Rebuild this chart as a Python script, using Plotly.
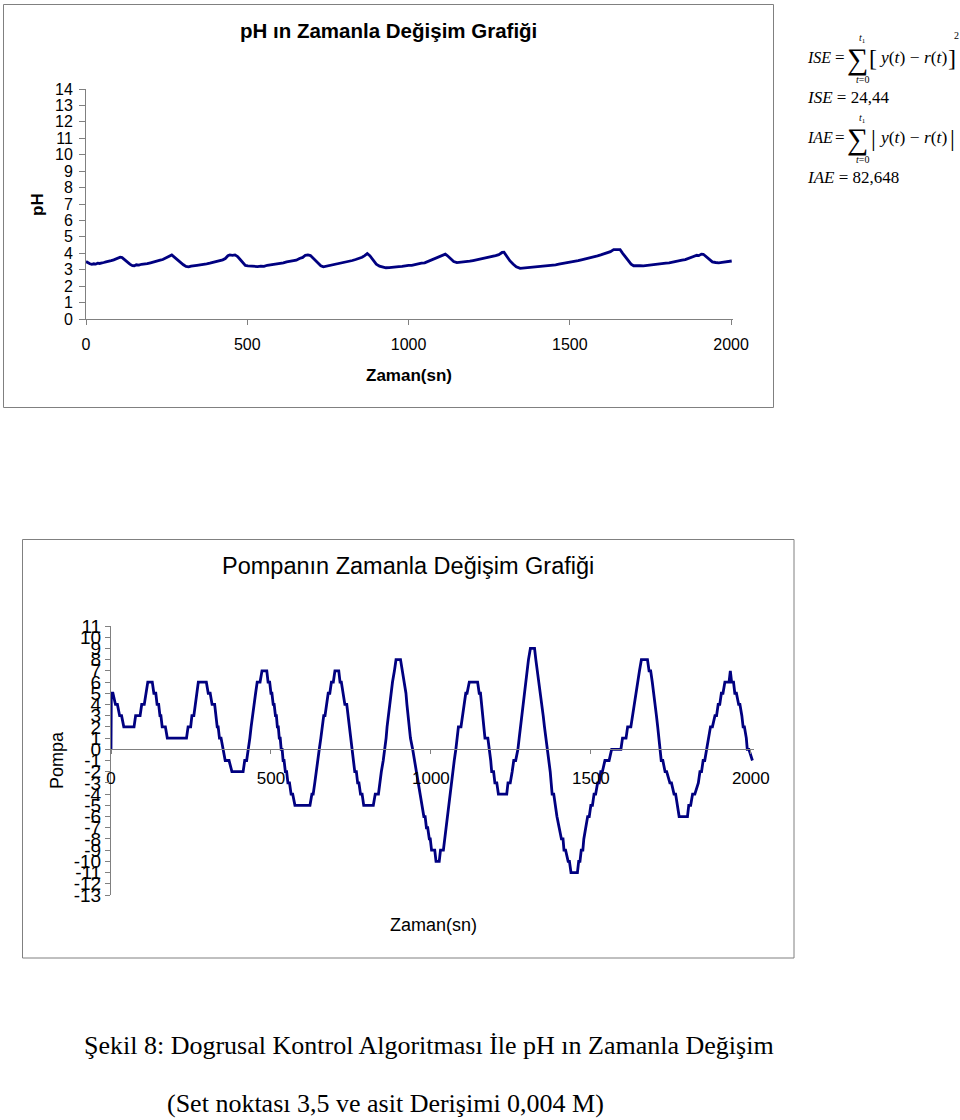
import plotly.graph_objects as go

# ---------------- data ----------------
ph_time = [0, 6, 12, 18, 24, 30, 36, 42, 48, 55, 62, 70, 78, 86, 94, 100, 106, 112, 120, 128,
           136, 144, 150, 156, 164, 172, 180, 190, 200, 210, 220, 230, 238, 246, 254, 260, 266,
           272, 282, 292, 302, 310, 318, 326, 334, 344, 354, 364, 374, 384, 394, 404, 414, 424,
           432, 440, 446, 454, 462, 470, 478, 486, 494, 502, 512, 522, 532, 542, 552, 562, 572,
           582, 592, 602, 612, 622, 632, 642, 652, 662, 672, 680, 688, 696, 704, 712, 720, 728,
           736, 746, 756, 766, 776, 786, 796, 806, 816, 826, 836, 846, 856, 864, 872, 880, 890,
           900, 910, 920, 930, 940, 950, 960, 970, 980, 990, 1000, 1010, 1020, 1030, 1040, 1050,
           1060, 1070, 1080, 1090, 1100, 1108, 1114, 1120, 1130, 1140, 1150, 1160, 1170, 1180,
           1190, 1200, 1210, 1220, 1230, 1240, 1250, 1260, 1270, 1280, 1290, 1296, 1304, 1314,
           1324, 1334, 1346, 1356, 1366, 1376, 1386, 1396, 1406, 1416, 1426, 1436, 1446, 1456,
           1466, 1476, 1486, 1496, 1506, 1516, 1526, 1536, 1546, 1556, 1566, 1576, 1586, 1596,
           1606, 1616, 1626, 1636, 1646, 1656, 1664, 1672, 1680, 1690, 1698, 1708, 1718, 1728,
           1738, 1748, 1758, 1768, 1778, 1788, 1798, 1808, 1818, 1828, 1838, 1848, 1858, 1868,
           1878, 1886, 1894, 1900, 1908, 1914, 1922, 1932, 1942, 1952, 1962, 1972, 1982, 1992, 2002]
ph_value = [3.50, 3.42, 3.36, 3.33, 3.36, 3.34, 3.40, 3.38, 3.43, 3.44, 3.48, 3.50, 3.55, 3.60, 3.65,
            3.72, 3.76, 3.74, 3.60, 3.48, 3.34, 3.25, 3.24, 3.30, 3.28, 3.33, 3.34, 3.37, 3.42, 3.46,
            3.52, 3.58, 3.62, 3.70, 3.76, 3.82, 3.90, 3.80, 3.62, 3.44, 3.30, 3.20, 3.17, 3.22, 3.26,
            3.27, 3.30, 3.31, 3.36, 3.40, 3.45, 3.48, 3.55, 3.60, 3.68, 3.85, 3.90, 3.87, 3.90, 3.80,
            3.62, 3.42, 3.26, 3.24, 3.22, 3.23, 3.19, 3.22, 3.20, 3.27, 3.30, 3.30, 3.36, 3.40, 3.42,
            3.48, 3.50, 3.56, 3.58, 3.68, 3.75, 3.88, 3.90, 3.86, 3.72, 3.56, 3.40, 3.24, 3.18, 3.22,
            3.28, 3.30, 3.33, 3.38, 3.42, 3.46, 3.52, 3.56, 3.62, 3.68, 3.76, 3.86, 3.98, 3.85, 3.58,
            3.34, 3.22, 3.15, 3.12, 3.13, 3.16, 3.15, 3.19, 3.20, 3.24, 3.26, 3.26, 3.32, 3.34, 3.40,
            3.42, 3.50, 3.58, 3.65, 3.72, 3.80, 3.88, 3.95, 3.86, 3.66, 3.50, 3.43, 3.45, 3.44, 3.50,
            3.52, 3.56, 3.60, 3.62, 3.68, 3.72, 3.76, 3.80, 3.86, 3.92, 4.05, 4.06, 3.80, 3.55, 3.35,
            3.18, 3.08, 3.10, 3.12, 3.11, 3.14, 3.16, 3.17, 3.20, 3.22, 3.25, 3.28, 3.30, 3.34, 3.37,
            3.40, 3.45, 3.48, 3.52, 3.55, 3.60, 3.64, 3.70, 3.75, 3.80, 3.84, 3.90, 3.96, 4.02, 4.10,
            4.22, 4.24, 4.22, 4.00, 3.78, 3.56, 3.34, 3.24, 3.22, 3.24, 3.23, 3.26, 3.27, 3.30, 3.32,
            3.34, 3.38, 3.40, 3.42, 3.47, 3.50, 3.54, 3.58, 3.62, 3.70, 3.76, 3.80, 3.88, 3.86, 3.95,
            3.94, 3.80, 3.62, 3.48, 3.44, 3.42, 3.45, 3.48, 3.50, 3.53]

pump_points = [
    (0, 0), (1, 5), (6, 5), (14, 4), (20, 4), (27, 3), (33, 3), (40, 2), (72, 2), (77, 3), (91, 3),
    (96, 4), (104, 4), (109, 5), (115, 6), (129, 6), (134, 5), (140, 5), (144, 4), (149, 4), (153, 3),
    (156, 3), (160, 2), (170, 2), (176, 1), (236, 1), (241, 2), (249, 2), (253, 3), (259, 3), (263, 4),
    (268, 5), (273, 6), (298, 6),
    (304, 5), (310, 5), (316, 4), (324, 4), (328, 3), (332, 2), (335, 2), (339, 1), (344, 1), (351, 0),
    (357, -1), (369, -1), (378, -2), (413, -2), (418, -1), (424, -1), (430, 0), (434, 1), (438, 2),
    (442, 3), (447, 4), (452, 5), (457, 6), (466, 6), (472, 7), (487, 7),
    (491, 6), (496, 6), (500, 5), (503, 5), (507, 4), (510, 4), (514, 3), (517, 3), (520, 2), (523, 2),
    (526, 1), (529, 1), (532, 0), (535, 0), (538, -1), (541, -1), (545, -2), (549, -2), (553, -3),
    (558, -3), (563, -4), (568, -4), (575, -5), (622, -5),
    (628, -4), (632, -4), (637, -3), (641, -2), (646, -1), (651, 0), (656, 1), (660, 2), (665, 3),
    (669, 3), (674, 4), (679, 5), (684, 5), (689, 6), (695, 6), (700, 7), (712, 7),
    (716, 6), (720, 6), (726, 5), (731, 4), (737, 4), (741, 3), (745, 2), (749, 1), (754, 0),
    (758, -1), (762, -2), (767, -2), (771, -3), (775, -3), (780, -4), (785, -4), (790, -5), (820, -5),
    (826, -4), (836, -4), (840, -3), (845, -2), (851, -1), (856, 0), (860, 1), (863, 2), (867, 3),
    (871, 4), (875, 5), (880, 6), (886, 7), (891, 8), (905, 8),
    (911, 7), (916, 6), (922, 5), (925, 4), (928, 3), (932, 2), (936, 1), (943, 0), (949, -1),
    (955, -2), (961, -3), (968, -4), (973, -5), (978, -6), (982, -6), (986, -7), (990, -7), (995, -8),
    (998, -8), (1002, -9), (1012, -9), (1016, -10), (1026, -10), (1030, -9), (1039, -9),
    (1043, -8), (1047, -7), (1051, -6), (1056, -5), (1060, -4), (1064, -3), (1069, -2), (1073, -1),
    (1078, 0), (1082, 1), (1086, 2), (1094, 2), (1099, 3), (1104, 4), (1109, 5), (1113, 5), (1120, 6),
    (1146, 6),
    (1151, 5), (1155, 5), (1159, 4), (1163, 3), (1166, 2), (1169, 1), (1178, 1), (1183, 0), (1187, -1),
    (1190, -2), (1196, -2), (1200, -3), (1206, -3), (1211, -4), (1237, -4), (1241, -3), (1248, -3),
    (1254, -2), (1259, -1), (1265, -1), (1272, 0), (1276, 1), (1280, 2), (1284, 3), (1288, 4),
    (1292, 5), (1296, 6), (1300, 7), (1305, 8), (1311, 9), (1324, 9),
    (1328, 8), (1333, 7), (1337, 6), (1342, 5), (1346, 4), (1351, 3), (1355, 2), (1360, 1), (1365, 0),
    (1369, -1), (1373, -2), (1376, -3), (1379, -4), (1384, -4), (1388, -5), (1394, -6), (1401, -7),
    (1408, -8), (1413, -8), (1416, -9), (1421, -9), (1429, -10), (1433, -10), (1438, -11), (1458, -11),
    (1462, -10), (1466, -10), (1470, -9), (1475, -9), (1478, -8), (1484, -7), (1490, -6), (1495, -6),
    (1500, -5), (1505, -5), (1510, -4), (1515, -4), (1521, -3), (1526, -3), (1531, -2), (1536, -2),
    (1544, -1), (1557, -1), (1565, 0), (1594, 0), (1599, 1), (1610, 1), (1615, 2), (1625, 2),
    (1630, 3), (1635, 4), (1640, 5), (1646, 6), (1652, 7), (1658, 8), (1677, 8),
    (1682, 7), (1687, 7), (1692, 6), (1697, 5), (1701, 4), (1705, 3), (1709, 2), (1712, 1), (1716, 0),
    (1720, -1), (1725, -1), (1732, -2), (1737, -2), (1747, -3), (1752, -3), (1760, -4), (1765, -4),
    (1770, -5), (1776, -6), (1802, -6), (1806, -5), (1812, -5), (1818, -4), (1825, -4), (1836, -3),
    (1841, -2), (1846, -2), (1851, -1), (1856, -1), (1862, 0), (1867, 1), (1874, 2), (1880, 2),
    (1888, 3), (1893, 3), (1898, 4), (1903, 4), (1908, 5), (1913, 5), (1919, 6), (1932, 6), (1936, 7),
    (1940, 6), (1946, 6), (1950, 5), (1955, 5), (1962, 4), (1966, 4), (1972, 3), (1976, 2), (1980, 2),
    (1986, 1), (1989, 0), (1994, 0), (2005, -1),
]
pump_time = [p[0] for p in pump_points]
pump_value = [p[1] for p in pump_points]

x_ticks = [0, 500, 1000, 1500, 2000]
ph_ticks = list(range(0, 15))
pump_ticks = list(range(-13, 12))
pump_tick_text = [str(v) for v in pump_ticks]

title_top = "pH ın Zamanla Değişim Grafiği"
title_bottom = "Pompanın Zamanla Değişim Grafiği"
x_title = "Zaman(sn)"
caption_1 = "Şekil 8: Dogrusal Kontrol Algoritması İle pH ın Zamanla Değişim"
caption_2 = "(Set noktası 3,5 ve asit Derişimi 0,004 M)"
ise_value = "24,44"
iae_value = "82,648"

# ---------------- helpers (pixel -> paper) ----------------
W, H = 960, 1120
def px(x):
    return x / W
def py(y):
    return 1 - y / H

SANS = "Liberation Sans, Arial, sans-serif"
SERIF = "Liberation Serif, Times New Roman, serif"
LINE = "#000080"
GRAY = "#808080"

fig = go.Figure()
fig.add_trace(go.Scatter(x=ph_time, y=ph_value, mode="lines",
                         line=dict(color=LINE, width=2.8), xaxis="x", yaxis="y",
                         hoverinfo="skip"))
fig.add_trace(go.Scatter(x=pump_time, y=pump_value, mode="lines",
                         line=dict(color=LINE, width=2.8), xaxis="x2", yaxis="y2",
                         hoverinfo="skip"))

axis_common = dict(showgrid=False, zeroline=False, showline=True, linecolor=GRAY,
                   linewidth=1, ticks="outside", tickcolor=GRAY, tickwidth=1,
                   automargin=False)

# zero of pump axis in pixels
y_top2, y_bot2 = 626, 895
zero_px = y_top2 + 11 * (y_bot2 - y_top2) / 24

fig.update_layout(
    width=W, height=H, margin=dict(l=0, r=0, t=0, b=0, pad=0, autoexpand=False),
    paper_bgcolor="white", plot_bgcolor="rgba(0,0,0,0)", showlegend=False,
    xaxis=dict(domain=[px(86), px(733)], range=[0, 2006], anchor="y",
               tickmode="array", tickvals=x_ticks, ticklen=5,
               tickfont=dict(family=SANS, size=16, color="black"),
               ticklabelstandoff=6, **axis_common),
    yaxis=dict(domain=[py(319), py(89)], range=[0, 14], anchor="x",
               tickmode="array", tickvals=ph_ticks, ticklen=6,
               tickfont=dict(family=SANS, size=16, color="black"),
               ticklabelstandoff=3, **axis_common),
    xaxis2=dict(domain=[px(111), px(754)], range=[0, 2010], anchor="free",
                position=py(zero_px), tickmode="array", tickvals=x_ticks, ticklen=4,
                tickfont=dict(family=SANS, size=17, color="black"),
                ticklabelstandoff=9, **axis_common),
    yaxis2=dict(domain=[py(y_bot2), py(y_top2)], range=[-13, 11], anchor="x2",
                tickmode="array", tickvals=pump_ticks, ticktext=pump_tick_text, ticklen=5,
                tickfont=dict(family=SANS, size=19, color="black"),
                ticklabelstandoff=0, **axis_common),
)

# chart borders
fig.add_shape(type="rect", xref="paper", yref="paper", x0=px(3.5), x1=px(773.5),
              y0=py(407.5), y1=py(4.5), line=dict(color=GRAY, width=1), layer="below")
fig.add_shape(type="rect", xref="paper", yref="paper", x0=px(22.5), x1=px(794),
              y0=py(958), y1=py(539.5), line=dict(color=GRAY, width=1), layer="below")

def txt(x, y, s, size, family=SANS, xanchor="center", yanchor="middle", angle=0, bold=False):
    if bold:
        s = "<b>" + s + "</b>"
    fig.add_annotation(x=px(x), y=py(y), xref="paper", yref="paper", text=s,
                       showarrow=False, xanchor=xanchor, yanchor=yanchor, textangle=angle,
                       font=dict(family=family, size=size, color="black"))

# top chart texts
txt(388, 30, title_top, 20.5, bold=True)
txt(409, 375, x_title, 17, bold=True)
txt(37, 205, "pH", 17, bold=True, angle=-90)

# bottom chart texts
txt(408, 566, title_bottom, 23.5)
txt(433, 925, x_title, 18)
txt(57, 760, "Pompa", 18, angle=-90)

# caption
txt(429, 1045, caption_1, 26, family=SERIF)
txt(385, 1103, caption_2, 26, family=SERIF)

# formulas
FS = 17
def formula(y0, name, open_br, close_br):
    txt(805, y0, "<i>" + name + "</i>", 16, family=SERIF, xanchor="left")
    txt(840, y0, "=", FS, family=SERIF)
    txt(857, y0 + 2, "∑", 30, family=SERIF)
    txt(862, y0 - 18, "<i>t</i><sub>1</sub>", 10, family=SERIF)
    txt(862, y0 + 23, "<i>t</i>=0", 10, family=SERIF)
    txt(873, y0 + 1, open_br, 24, family=SERIF)
    txt(877, y0, "<i>y</i>(<i>t</i>) − <i>r</i>(<i>t</i>)", 17.5, family=SERIF, xanchor="left")
    txt(952, y0 + 1, close_br, 24, family=SERIF)

formula(57, "ISE", "[", "]")
txt(956, 35, "2", 10, family=SERIF)
txt(805, 97, "<i>ISE</i> = " + ise_value, FS, family=SERIF, xanchor="left")
formula(137, "IAE", "|", "|")
txt(805, 177, "<i>IAE</i> = " + iae_value, FS, family=SERIF, xanchor="left")

fig.write_html("out.html", config={"displayModeBar": False},
               post_script="document.body.style.margin='0';")
